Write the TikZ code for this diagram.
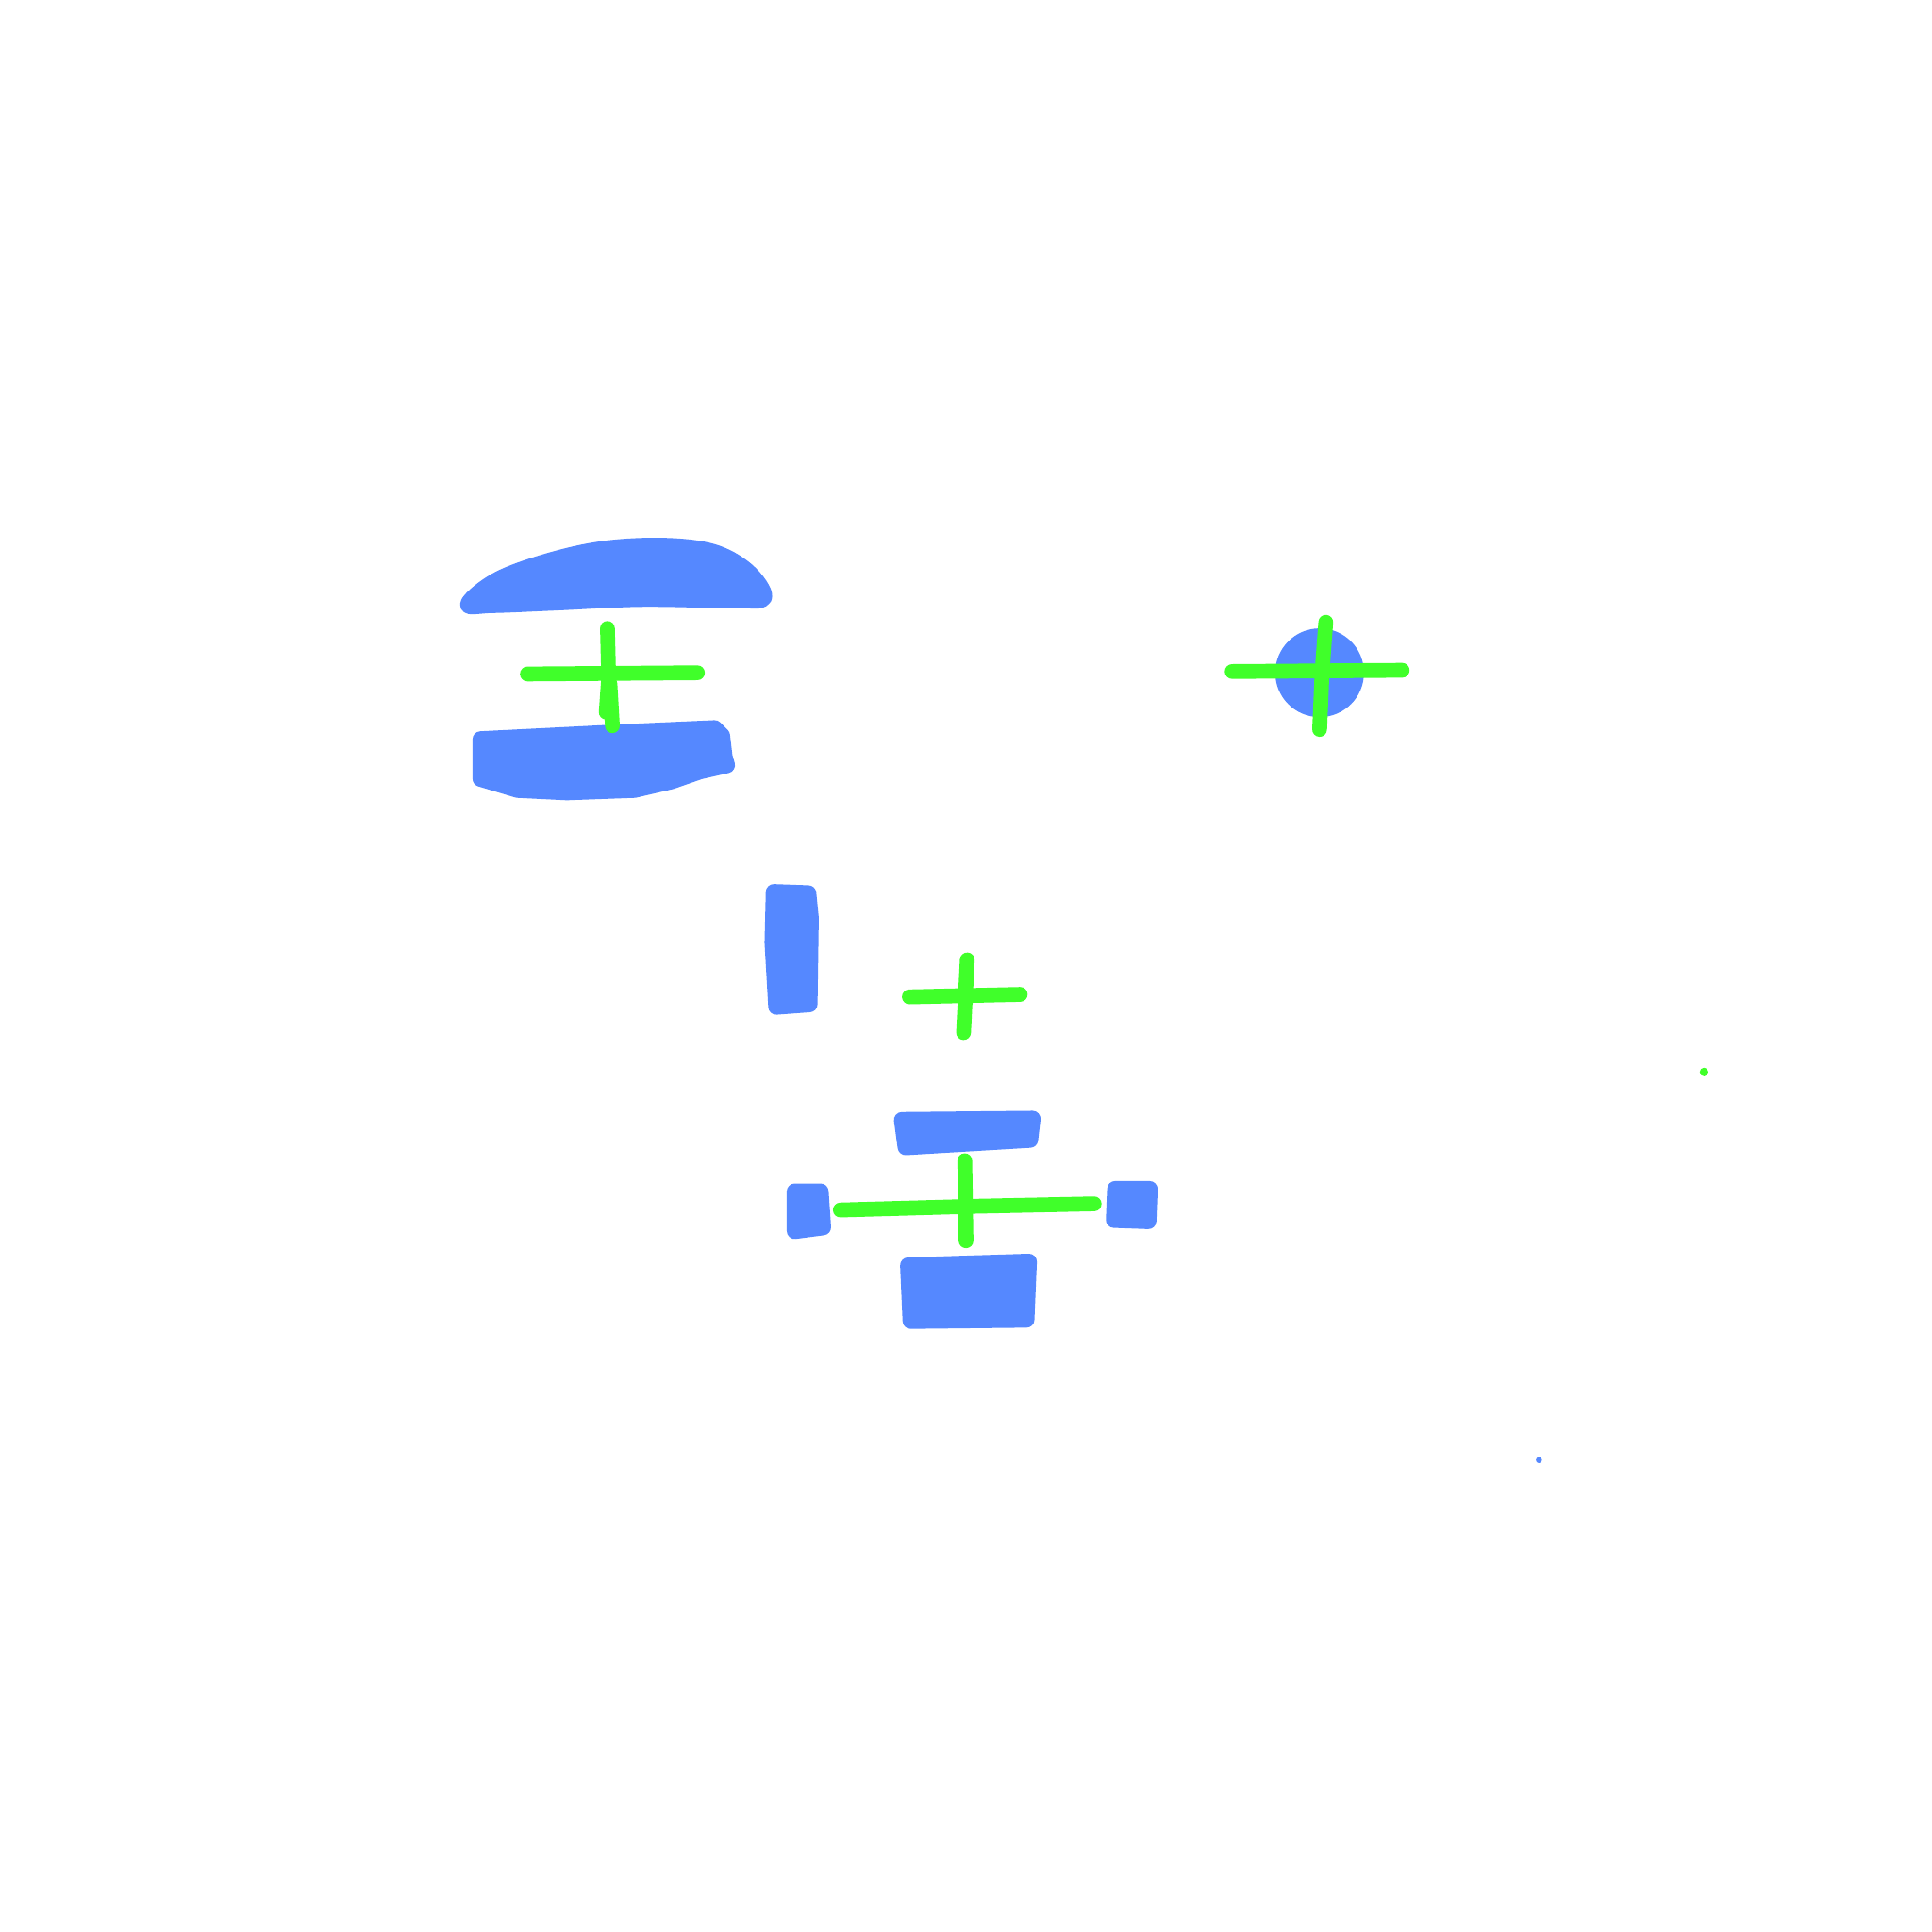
\documentclass[tikz,border=0pt]{standalone}
\definecolor{inkblue}{HTML}{5588FF}
\definecolor{inkgreen}{HTML}{40FF2A}
\tikzset{
  blob/.style={fill=inkblue,draw=inkblue,line width=13pt,line join=round},
  cross/.style={draw=inkgreen,line width=12pt,line cap=round,line join=round},
}
\begin{document}
\begin{tikzpicture}[x=1pt,y=-1pt]
\useasboundingbox[fill=white] (0,0) rectangle (1568,1568);
% top dome
\draw[blob] plot[smooth cycle,tension=0.6] coordinates {(380,490) (409,468) (470,449) (525,443) (575,447) (606,463) (620,485) (595,487) (520,486) (450,489) (400,491)};
% lower wide block
\draw[blob] (390,600) -- (490,595) -- (580,591) -- (586,597) -- (588,614) -- (590,621) -- (568,626) -- (545,634) -- (515,641) -- (460,643) -- (420,641) -- (390,632) -- cycle;
% cross 1
\draw[cross] (428,547) -- (566,546);
\draw[cross] (493,510) -- (494,550) -- (492,578);
\draw[cross] (495,555) -- (497,589);
% circle with cross
\fill[inkblue] (1071,546) circle[radius=36];
\draw[cross] (1000,545) -- (1138,544);
\draw[cross] (1076,505) -- (1073,545) -- (1071,592);
% vertical block
\draw[blob] (628,724) -- (656,725) -- (658,745) -- (657,815) -- (630,817) -- (627,765) -- cycle;
% cross 3
\draw[cross] (738,809) -- (828,807);
\draw[cross] (785,779) -- (782,838);
% small green dot
\fill[inkgreen] (1383,870) circle[radius=3.5];
% rectangle above cross 4
\draw[blob] (732,909) -- (838,908) -- (836,925) -- (735,931) -- cycle;
% left square
\draw[blob] (645,967) -- (666,967) -- (668,996) -- (645,999) -- cycle;
% right square
\draw[blob] (905,965) -- (933,965) -- (932,991) -- (904,990) -- cycle;
% cross 4
\draw[cross] (682,982) -- (790,979) -- (888,977);
\draw[cross] (783,942) -- (784,1007);
% bottom rectangle
\draw[blob] (737,1027) -- (835,1024) -- (833,1071) -- (739,1072) -- cycle;
% small blue dot
\fill[inkblue] (1249,1185) circle[radius=2.5];
\end{tikzpicture}
\end{document}
